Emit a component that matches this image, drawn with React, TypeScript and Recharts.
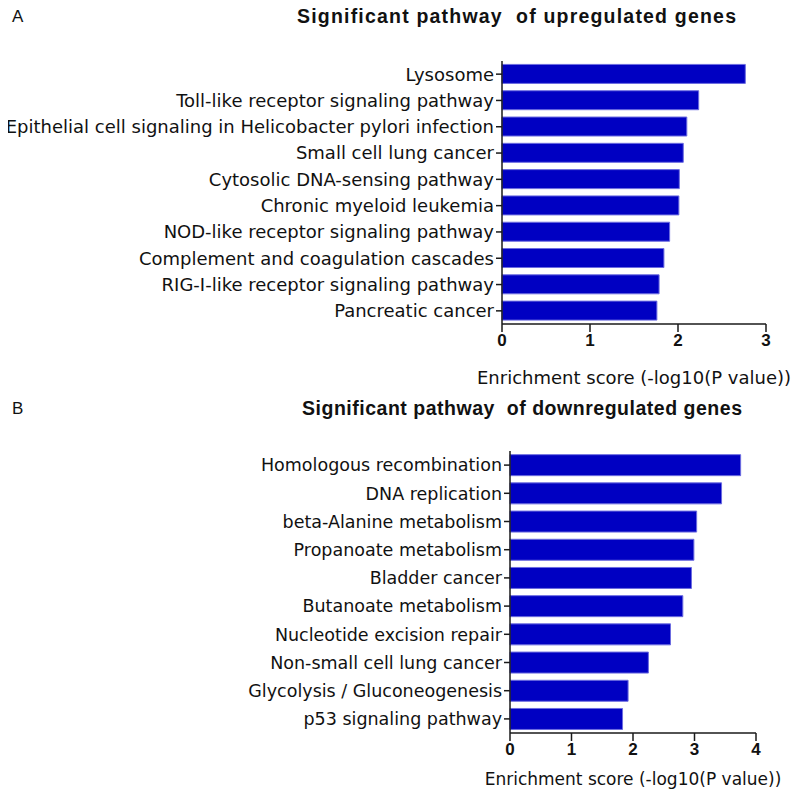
import { Bar, BarChart, XAxis, YAxis } from "recharts";

const upPathways = [
  "Lysosome",
  "Toll-like receptor signaling pathway",
  "Epithelial cell signaling in Helicobacter pylori infection",
  "Small cell lung cancer",
  "Cytosolic DNA-sensing pathway",
  "Chronic myeloid leukemia",
  "NOD-like receptor signaling pathway",
  "Complement and coagulation cascades",
  "RIG-I-like receptor signaling pathway",
  "Pancreatic cancer",
];
const upScores = [2.765, 2.235, 2.1, 2.06, 2.015, 2.01, 1.905, 1.84, 1.785, 1.76];
const upTicks = [0, 1, 2, 3];

const downPathways = [
  "Homologous recombination",
  "DNA replication",
  "beta-Alanine metabolism",
  "Propanoate metabolism",
  "Bladder cancer",
  "Butanoate metabolism",
  "Nucleotide excision repair",
  "Non-small cell lung cancer",
  "Glycolysis / Gluconeogenesis",
  "p53 signaling pathway",
];
const downScores = [3.75, 3.44, 3.035, 2.99, 2.95, 2.81, 2.61, 2.25, 1.92, 1.83];
const downTicks = [0, 1, 2, 3, 4];

const axisLabel = "Enrichment score (-log10(P value))";
const upTitle = "Significant pathway  of upregulated genes";
const downTitle = "Significant pathway  of downregulated genes";

const BAR = "#0000c2";
const INK = "#1a1a1a";
const labelFont = "'DejaVu Sans', sans-serif";
const titleFont = "'Liberation Sans', Arial, sans-serif";

type PanelProps = {
  names: string[];
  scores: number[];
  ticks: number[];
  height: number;
  axisWidth: number;
  right: number;
  bottom: number;
  labelOffset: number;
  fontSize: number;
  labelSize: number;
};

function Panel({ names, scores, ticks, height, axisWidth, right, bottom, labelOffset, fontSize, labelSize }: PanelProps) {
  const data = names.map((name, i) => ({ name, score: scores[i] }));
  return (
    <BarChart
      width={800}
      height={height}
      data={data}
      layout="vertical"
      barCategoryGap="13%"
      margin={{ top: 61, right, bottom, left: 0 }}
    >
      <YAxis
        type="category"
        dataKey="name"
        width={axisWidth}
        stroke={INK}
        strokeWidth={1.5}
        tickSize={6}
        tick={{ fontSize, fill: "#111", fontFamily: labelFont }}
        interval={0}
      />
      <XAxis
        type="number"
        domain={[0, ticks[ticks.length - 1]]}
        ticks={ticks}
        height={30}
        stroke={INK}
        strokeWidth={1.5}
        tickSize={8}
        tick={{ fontSize: 17, fill: "#111", fontWeight: "bold", fontFamily: titleFont }}
        label={{
          value: axisLabel,
          position: "bottom",
          offset: labelOffset,
          fill: "#111",
          fontSize: labelSize,
          fontFamily: labelFont,
        }}
      />
      <Bar dataKey="score" fill={BAR} stroke="#6c6ce0" strokeWidth={1} isAnimationActive={false} />
    </BarChart>
  );
}

export default function App() {
  return (
    <div
      style={{
        position: "relative",
        width: 800,
        height: 797,
        margin: -8,
        background: "#fff",
        overflow: "hidden",
      }}
    >
      <div style={{ position: "absolute", top: 0, left: 0 }}>
        <Panel
          names={upPathways}
          scores={upScores}
          ticks={upTicks}
          height={400}
          axisWidth={502}
          right={34}
          bottom={46}
          labelOffset={17}
          fontSize={18}
          labelSize={18}
        />
      </div>
      <div style={{ position: "absolute", top: 390, left: 0 }}>
        <Panel
          names={downPathways}
          scores={downScores}
          ticks={downTicks}
          height={407}
          axisWidth={510}
          right={44}
          bottom={34}
          labelOffset={10}
          fontSize={17.5}
          labelSize={17}
        />
      </div>
      {/* panel letters and titles */}
      <svg
        width={800}
        height={797}
        style={{ position: "absolute", top: 0, left: 0, pointerEvents: "none" }}
      >
        <g fill="#111" fontFamily={titleFont}>
          <text x={12} y={22} fontSize={17}>A</text>
          <text x={12} y={414} fontSize={17}>B</text>
          <text
            x={297}
            y={23}
            fontSize={19.5}
            fontWeight="bold"
            textLength={439}
            lengthAdjust="spacing"
            style={{ whiteSpace: "pre" }}
          >
            {upTitle}
          </text>
          <text
            x={302}
            y={415}
            fontSize={19.5}
            fontWeight="bold"
            textLength={440}
            lengthAdjust="spacing"
            style={{ whiteSpace: "pre" }}
          >
            {downTitle}
          </text>
        </g>
      </svg>
    </div>
  );
}
